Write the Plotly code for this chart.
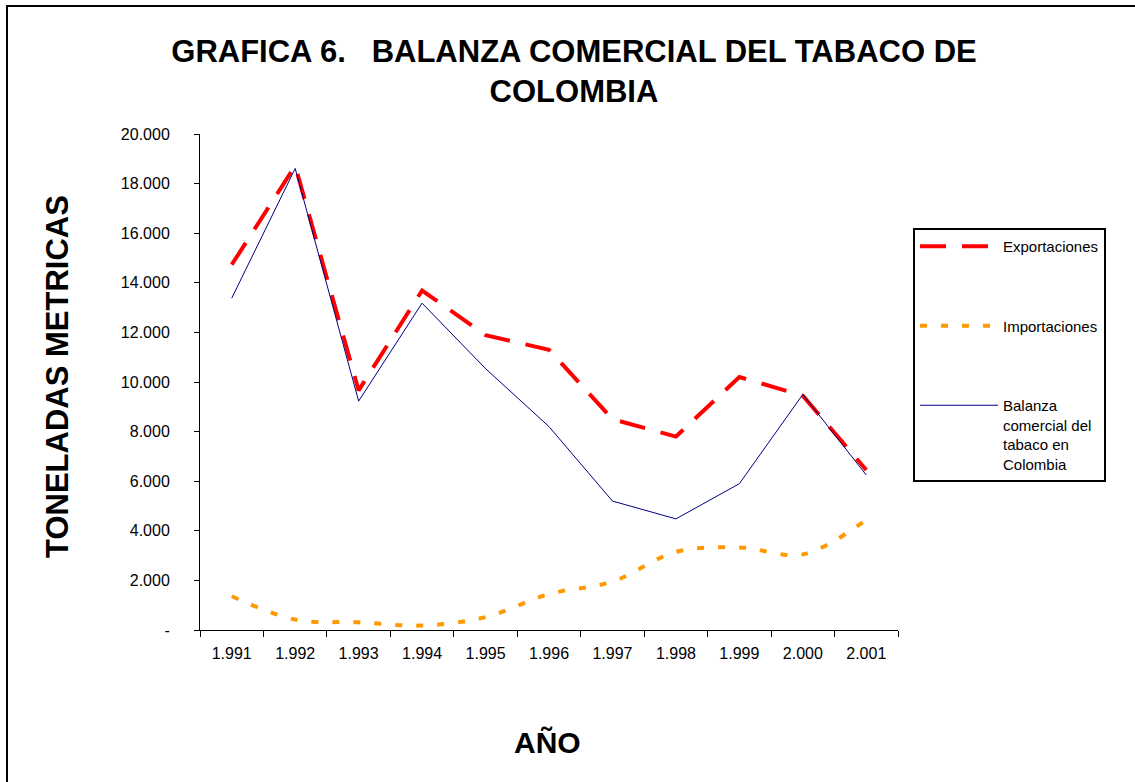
import plotly.graph_objects as go

years = ["1.991", "1.992", "1.993", "1.994", "1.995", "1.996",
         "1.997", "1.998", "1.999", "2.000", "2.001"]
exportaciones = [14730, 18720, 9660, 13690, 11890, 11300, 8500, 7800, 10200, 9450, 6450]
importaciones = [1360, 420, 310, 180, 520, 1450, 1950, 3150, 3330, 3050, 4450]
balanza = [13380, 18610, 9230, 13180, 10540, 8200, 5200, 4480, 5900, 9500, 6250]

y_tickvals = [0, 2000, 4000, 6000, 8000, 10000, 12000, 14000, 16000, 18000, 20000]
y_ticktext = ["-", "2.000", "4.000", "6.000", "8.000", "10.000", "12.000",
              "14.000", "16.000", "18.000", "20.000"]

FONT = "Arial, 'Liberation Sans', sans-serif"
W, H = 1135, 782
L, R, T, B = 200, 237, 134, 152
PW, PH = W - L - R, H - T - B


def px2x(px):
    return (px - L) / PW


def py2y(py):
    return (H - B - py) / PH


fig = go.Figure()
fig.add_trace(go.Scatter(
    x=years, y=exportaciones, name="Exportaciones", mode="lines",
    line=dict(color="#FF0000", width=4, dash="26px,16px"),
    legendgroup="a"))
fig.add_trace(go.Scatter(
    x=years, y=importaciones, name="Importaciones", mode="lines",
    line=dict(color="#FF9900", width=4, dash="7px,14px", shape="spline", smoothing=1),
    legendgroup="b"))
fig.add_trace(go.Scatter(
    x=years, y=balanza, name="Balanza<br>comercial del<br>tabaco en<br>Colombia",
    mode="lines", line=dict(color="#000080", width=1),
    legendgroup="c"))

fig.update_layout(
    width=W, height=H,
    margin=dict(l=L, r=R, t=T, b=B),
    paper_bgcolor="white", plot_bgcolor="white",
    font=dict(family=FONT, color="black"),
    showlegend=True,
    legend=dict(
        x=px2x(913), y=py2y(228), xanchor="left", yanchor="top",
        bordercolor="black", borderwidth=2, bgcolor="white",
        font=dict(size=15, family=FONT, color="black"),
        tracegroupgap=57, valign="top", itemwidth=78,
    ),
    title=dict(
        text="<b>GRAFICA 6.&nbsp;&nbsp; BALANZA COMERCIAL DEL TABACO DE<br>COLOMBIA</b>",
        font=dict(size=31, family=FONT, color="black"),
        xref="paper", x=px2x(574), xanchor="center",
        yref="container", y=1 - 62 / H, yanchor="top",
    ),
    xaxis=dict(
        type="category", range=[-0.5, 10.5], tickson="boundaries",
        showline=True, linecolor="black", linewidth=1,
        ticks="outside", ticklen=6, tickcolor="black", tickwidth=1,
        showgrid=False, zeroline=False,
        tickfont=dict(size=16, family=FONT, color="black"),
        ticklabelstandoff=9,
    ),
    yaxis=dict(
        range=[0, 20000], tickvals=y_tickvals, ticktext=y_ticktext,
        showline=True, linecolor="black", linewidth=1,
        ticks="outside", ticklen=5, tickcolor="black", tickwidth=1,
        showgrid=False, zeroline=False,
        tickfont=dict(size=16, family=FONT, color="black"),
        ticklabelstandoff=21,
    ),
    annotations=[
        dict(text="<b>TONELADAS METRICAS</b>", textangle=-90,
             xref="paper", yref="paper", x=px2x(57), y=py2y(377),
             xanchor="center", yanchor="middle", showarrow=False,
             font=dict(size=31, family=FONT, color="black")),
        dict(text="<b>AÑO</b>",
             xref="paper", yref="paper", x=px2x(547), y=py2y(742),
             xanchor="center", yanchor="middle", showarrow=False,
             font=dict(size=30, family=FONT, color="black")),
    ],
    shapes=[
        dict(type="rect", xref="paper", yref="paper",
             x0=px2x(7), x1=px2x(1150), y0=py2y(800), y1=py2y(6),
             line=dict(color="black", width=2), layer="below"),
    ],
)

fig.write_html("out.html", config={"displayModeBar": False},
               post_script="document.body.style.margin='0';")
